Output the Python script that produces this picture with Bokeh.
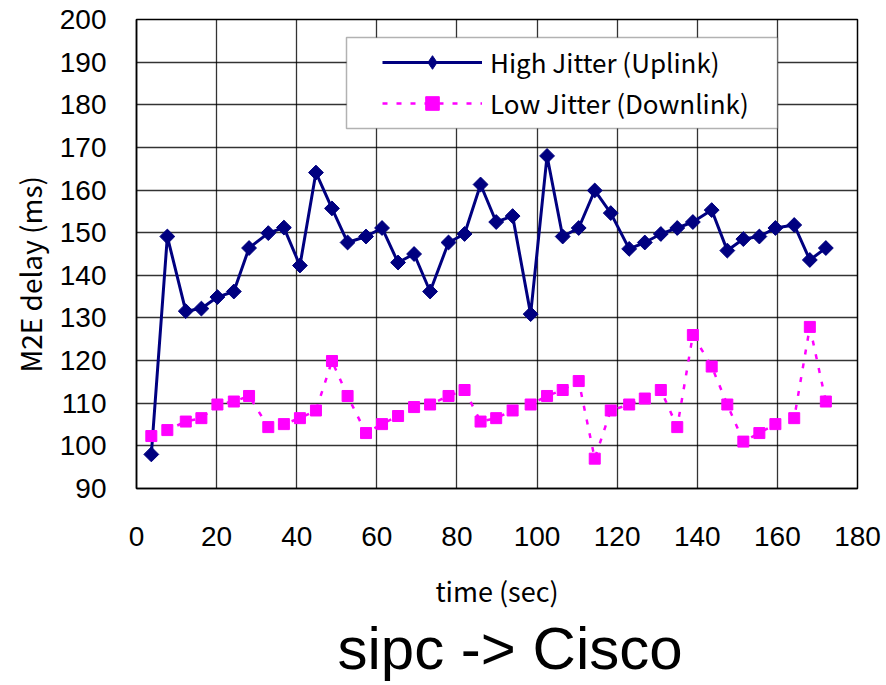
import math
from bokeh.plotting import figure
from bokeh.models import (Range1d, FixedTicker, Legend, LegendItem, Title,
                          BoxAnnotation)
from bokeh.embed import file_html
from bokeh.resources import INLINE

# ---- data ----
time_sec = [3.7, 7.7, 12.3, 16.2, 20.2, 24.3, 28.1, 32.9, 36.8, 40.8,
            44.8, 48.8, 52.7, 57.3, 61.3, 65.3, 69.3, 73.3, 77.9, 81.9,
            85.9, 89.8, 93.9, 98.4, 102.5, 106.4, 110.4, 114.4, 118.4, 123.0,
            126.9, 130.9, 135.0, 138.9, 143.6, 147.5, 151.5, 155.5, 159.5, 164.2,
            168.1, 172.1]

high_jitter_uplink = [98.0, 149.1, 131.6, 132.2, 134.9, 136.2, 146.4, 149.9, 151.2, 142.3,
                      164.1, 155.7, 147.7, 149.1, 151.1, 143.0, 145.0, 136.2, 147.7, 149.7,
                      161.3, 152.5, 153.9, 130.9, 168.0, 149.1, 151.1, 159.9, 154.6, 146.2,
                      147.7, 149.7, 151.1, 152.5, 155.3, 145.8, 148.5, 149.1, 151.1, 151.8,
                      143.6, 146.4]

low_jitter_downlink = [102.3, 103.7, 105.7, 106.5, 109.7, 110.4, 111.7, 104.4, 105.1, 106.5,
                       108.3, 119.9, 111.7, 103.0, 105.1, 107.0, 109.1, 109.7, 111.7, 113.1,
                       105.7, 106.5, 108.3, 109.7, 111.7, 113.1, 115.2, 97.0, 108.3, 109.7,
                       111.1, 113.1, 104.4, 126.0, 118.6, 109.7, 101.0, 103.0, 105.1, 106.5,
                       127.9, 110.4]

x_ticks = [0, 20, 40, 60, 80, 100, 120, 140, 160, 180]
y_ticks = [90, 100, 110, 120, 130, 140, 150, 160, 170, 180, 190, 200]

series_names = ["High Jitter (Uplink)", "Low Jitter (Downlink)"]
x_title = "time (sec)"
y_title = "M2E delay (ms)"
chart_title = "sipc -> Cisco"

# ---- figure ----
p = figure(width=886, height=685, output_backend="svg", toolbar_location=None,
           x_range=Range1d(0, 180), y_range=Range1d(90, 200),
           min_border_left=136, min_border_right=29, min_border_top=19,
           min_border_bottom=197)
p.background_fill_color = "white"
p.border_fill_color = "white"
p.outline_line_color = "black"
p.outline_line_width = 1.5

tick_font = "Liberation Sans"
jp_font = "Noto Sans CJK JP"

for ax in (p.xaxis[0], p.yaxis[0]):
    ax.major_label_text_font = tick_font
    ax.major_label_text_font_size = "28px"
    ax.major_label_text_color = "black"
    ax.major_tick_out = 0
    ax.major_tick_in = 0
    ax.minor_tick_out = 0
    ax.minor_tick_in = 0
    ax.axis_line_color = "black"
    ax.axis_line_width = 1.5

p.xaxis[0].ticker = FixedTicker(ticks=x_ticks)
p.yaxis[0].ticker = FixedTicker(ticks=y_ticks)
p.xaxis[0].major_label_standoff = 38
p.yaxis[0].major_label_standoff = 30

p.xaxis[0].axis_label = x_title
p.xaxis[0].axis_label_text_font = jp_font
p.xaxis[0].axis_label_text_font_size = "27px"
p.xaxis[0].axis_label_text_font_style = "normal"
p.xaxis[0].axis_label_text_color = "black"
p.xaxis[0].axis_label_standoff = 22

p.xgrid[0].ticker = FixedTicker(ticks=x_ticks)
p.ygrid[0].ticker = FixedTicker(ticks=y_ticks)
for g in (p.xgrid[0], p.ygrid[0]):
    g.grid_line_color = "black"
    g.grid_line_alpha = 0.8
    g.grid_line_width = 1.3

# ---- series ----
navy = "#000080"
magenta = "#FF00FF"
l1 = p.line(time_sec, high_jitter_uplink, line_color=navy, line_width=3)
# diamond-shaped copy of the uplink markers (hidden under the rotated squares);
# it supplies the diamond swatch in the legend
d1 = p.scatter(time_sec, high_jitter_uplink, marker="diamond", size=13,
               fill_color=navy, line_color=navy)
s1 = p.scatter(time_sec, high_jitter_uplink, marker="square", angle=math.pi / 4,
               size=10.5, fill_color=navy, line_color=navy)
l2 = p.line(time_sec, low_jitter_downlink, line_color=magenta, line_width=2.5,
            line_dash="5 9")
s2 = p.scatter(time_sec, low_jitter_downlink, marker="square", size=11,
               fill_color=magenta, line_color=magenta)

# ---- legend ----
box = BoxAnnotation(left=210, right=641, bottom=360, top=451,
                    left_units="screen", right_units="screen",
                    bottom_units="screen", top_units="screen",
                    fill_color="white", fill_alpha=1.0,
                    line_color="black", line_width=1.5)
p.add_layout(box)

legend = Legend(items=[LegendItem(label=series_names[0], renderers=[l1, d1]),
                       LegendItem(label=series_names[1], renderers=[l2, s2])],
                location=(238, 359))
legend.glyph_width = 100
legend.glyph_height = 34
legend.label_height = 30
legend.spacing = 4
legend.padding = 8
legend.margin = 0
legend.label_standoff = 8
legend.label_text_font = jp_font
legend.label_text_font_size = "26px"
legend.label_text_color = "black"
legend.border_line_alpha = 0
legend.background_fill_alpha = 0
p.add_layout(legend)

# ---- y label and bottom title ----
ytitle = Title(text=y_title, align="left", offset=116, standoff=14,
               text_font=jp_font, text_font_size="28px",
               text_font_style="normal", text_color="black")
p.add_layout(ytitle, "left")

btitle = Title(text=chart_title, align="left", offset=201, standoff=0,
               text_font="Liberation Sans", text_font_size="60px",
               text_font_style="normal", text_color="black")
p.add_layout(btitle, "below")

open("out.html", "w").write(file_html(p, INLINE))
